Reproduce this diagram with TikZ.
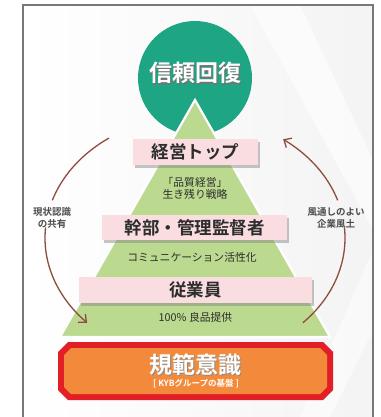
\documentclass[tikz,border=0pt]{standalone}
\usepackage{fontspec}
\newfontfamily\jp[BoldFont={Noto Sans CJK JP Bold}]{Noto Sans CJK JP}
\usetikzlibrary{arrows.meta,shadows}
\definecolor{teal1}{RGB}{29,165,132}
\definecolor{green1}{RGB}{187,217,143}
\definecolor{pink1}{RGB}{250,221,224}
\definecolor{orange1}{RGB}{243,138,59}
\definecolor{red1}{RGB}{226,30,38}
\definecolor{brown1}{RGB}{142,75,62}
\definecolor{ink}{RGB}{45,45,45}
\definecolor{frame1}{RGB}{120,120,120}
\tikzset{
  pinkbox/.style={fill=pink1, draw=none, inner sep=0pt,
    drop shadow={shadow xshift=2pt, shadow yshift=-2.5pt, opacity=0.45, fill=gray},
    font=\jp\bfseries\fontsize{17.5}{17.5}\selectfont, text=ink},
  subtext/.style={font=\jp\fontsize{10.8}{12}\selectfont, text=ink, align=center, inner sep=0pt},
  sidelabel/.style={font=\jp\bfseries\fontsize{9.5}{12}\selectfont, text=ink!85, align=center, inner sep=0pt},
  cyclearc/.style={draw=brown1, line width=1.3pt},
  barb/.style={-{Straight Barb[length=6pt,width=11pt,line width=1.3pt]}}
}
\begin{document}
\begin{tikzpicture}[x=1pt,y=-1pt]
\useasboundingbox (0,0) rectangle (380,417);
% background inside frame
\shade[left color=white, right color=gray!9] (23,5) rectangle (373,417);
\fill[white, opacity=0.6] (250,5) -- (300,5) -- (373,160) -- (373,230) -- cycle;
\fill[white, opacity=0.5] (373,250) -- (300,417) -- (330,417) -- (373,330) -- cycle;
\draw[frame1, line width=1.4pt] (23,420) -- (23,5) -- (373,5) -- (373,420);

% circle
\node[circle, fill=teal1, minimum size=114pt, inner sep=0pt] (trust) at (195,78) {};
\node[font=\jp\bfseries\fontsize{23}{23}\selectfont, text=black!55, inner sep=0pt] (trustshadow) at (196.5,74.5) {信頼回復};
\node[font=\jp\bfseries\fontsize{23}{23}\selectfont, text=white, inner sep=0pt] (trusttext) at (195,73) {信頼回復};

% pyramid
\coordinate (apex) at (195,100);
\coordinate (bl) at (60,337);
\coordinate (br) at (330,337);
\draw[white, line width=2.2pt, fill=green1, line join=miter] (apex) -- (br) -- (bl) -- cycle;

% levels
\node[pinkbox, minimum width=125pt, minimum height=26pt] (top) at (195.5,152) {経営トップ};
\node[subtext] (topsub) at (195,188) {「品質経営」\\生き残り戦略};
\node[pinkbox, minimum width=185pt, minimum height=25pt] (mid) at (194.5,227.5) {幹部・管理監督者};
\node[subtext] (midsub) at (192,257) {コミュニケーション活性化};
\node[pinkbox, minimum width=233pt, minimum height=26pt] (low) at (195.5,290) {従業員};
\node[subtext] (lowsub) at (195.5,317) {100\% 良品提供};

% base (chamfered, red border, orange inside)
\fill[red1] (68,342) -- (323,342) -- (333,352) -- (333,390) -- (323,400) -- (68,400) -- (58,390) -- (58,352) -- cycle;
\fill[orange1] (71,348) -- (320,348) -- (327,355) -- (327,387) -- (320,394) -- (71,394) -- (64,387) -- (64,355) -- cycle;
\node[inner sep=0pt, minimum width=275pt, minimum height=58pt] (base) at (195.5,371) {};
\node[font=\jp\bfseries\fontsize{23}{23}\selectfont, text=black!45, inner sep=0pt] (baseshadow) at (196.5,366) {規範意識};
\node[font=\jp\bfseries\fontsize{23}{23}\selectfont, text=white, inner sep=0pt] (basetext) at (195.5,365) {規範意識};
\node[font=\jp\bfseries\fontsize{8.5}{8.5}\selectfont, text=white, inner sep=0pt] (basesub) at (196,384) {[ KYBグループの基盤 ]};

% side labels
\node[sidelabel] (leftlabel) at (52,218) {現状認識\\の共有};
\node[sidelabel] (rightlabel) at (336,218) {風通しのよい\\企業風土};

% cycle arcs
\draw[cyclearc] plot[domain=125:162, samples=30, smooth] ({195+150*cos(\x)},{238-122*sin(\x)});
\draw[cyclearc, barb] plot[domain=175:224, samples=40, smooth] ({195+150*cos(\x)},{238-122*sin(\x)});
\draw[cyclearc] plot[domain=-44:4.7, samples=40, smooth] ({195+150*cos(\x)},{238-122*sin(\x)});
\draw[cyclearc, barb] plot[domain=18:54, samples=30, smooth] ({195+150*cos(\x)},{238-122*sin(\x)});
\end{tikzpicture}
\end{document}
